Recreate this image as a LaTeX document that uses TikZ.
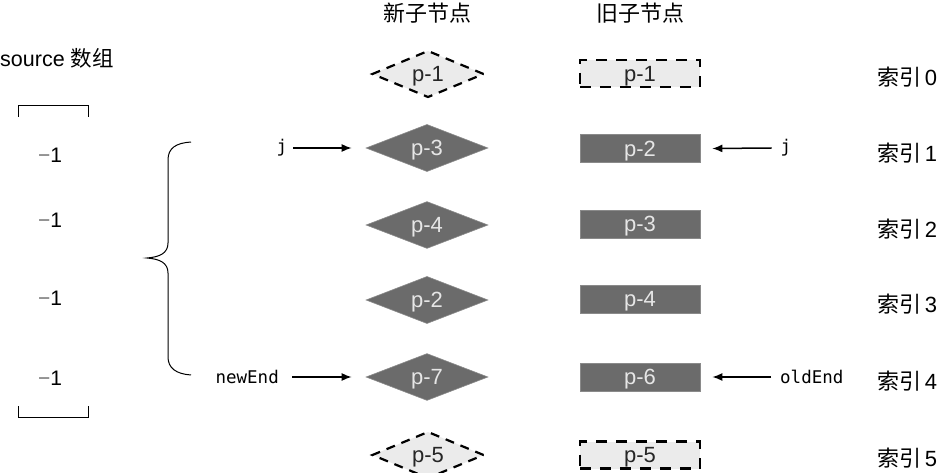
\documentclass[tikz,border=0pt]{standalone}
\usepackage{fontspec}
\setmainfont{Liberation Sans}
\newfontfamily\cjk{Noto Sans CJK SC}
\newfontfamily\codefont{DejaVu Sans Mono}
\usetikzlibrary{shapes.geometric,arrows.meta,calc}
\definecolor{darkfill}{HTML}{6B6B6B}
\definecolor{darkline}{HTML}{8A8A8A}
\definecolor{lightfill}{HTML}{EBEBEB}
\definecolor{darktext}{HTML}{E6E6E6}
\tikzset{
  base/.style={inner sep=0pt, text depth=0pt, font=\fontsize{22}{24}\selectfont},
  newdark/.style={base, diamond, minimum width=122pt, minimum height=34pt, fill=darkfill, draw=darkline, line width=0.6pt, text=darktext},
  newlight/.style={base, diamond, minimum width=112pt, minimum height=34pt, fill=lightfill, draw=black, line width=2.2pt, dash pattern=on 9pt off 7pt, text=black!85},
  olddark/.style={base, rectangle, minimum width=120pt, minimum height=28pt, fill=darkfill, draw=darkline, line width=0.6pt, text=darktext},
  oldlight/.style={base, rectangle, minimum width=120pt, minimum height=27pt, fill=lightfill, draw=black, line width=2.2pt, dash pattern=on 11pt off 9pt, text=black!85},
  header/.style={inner sep=0pt, font=\cjk\fontsize{22}{24}\selectfont},
  idx/.style={inner sep=0pt, font=\fontsize{22}{24}\selectfont, anchor=west},
  val/.style={inner sep=0pt, font=\fontsize{21}{24}\selectfont},
  ptr/.style={inner sep=0pt, font=\codefont\fontsize{17.5}{20}\selectfont},
  arr/.style={-{Latex[length=10pt,width=8pt]}, line width=1.5pt},
  brk/.style={line width=1pt},
}
\begin{document}
\begin{tikzpicture}[x=1pt,y=-1pt]
\useasboundingbox (0,0) rectangle (942,473);
% headers
\node[header] (hnew) at (427,13) {新子节点};
\node[header] (hold) at (640,13) {旧子节点};
\node[inner sep=0pt, font=\fontsize{21.5}{24}\selectfont, anchor=west] (src) at (0,58) {source {\cjk 数组}};
% new children
\node[newlight] (n0) at (428,74) {p-1};
\node[newdark]  (n1) at (427,148) {p-3};
\node[newdark]  (n2) at (427,225) {p-4};
\node[newdark]  (n3) at (427,300) {p-2};
\node[newdark]  (n4) at (427,377) {p-7};
\node[newlight] (n5) at (428,455) {p-5};
% old children
\node[oldlight] (o0) at (640,73.5) {p-1};
\node[olddark]  (o1) at (640,148.5) {p-2};
\node[olddark]  (o2) at (640,224) {p-3};
\node[olddark]  (o3) at (640,299) {p-4};
\node[olddark]  (o4) at (640,377) {p-6};
\node[oldlight] (o5) at (640,455) {p-5};
% index labels
\node[idx] (i0) at (877,77) {{\cjk 索引}\,0};
\node[idx] (i1) at (877,153) {{\cjk 索引}\,1};
\node[idx] (i2) at (877,229) {{\cjk 索引}\,2};
\node[idx] (i3) at (877,304) {{\cjk 索引}\,3};
\node[idx] (i4) at (877,381) {{\cjk 索引}\,4};
\node[idx] (i5) at (877,458) {{\cjk 索引}\,5};
% source values
\node[val] (v1) at (50,155) {\textcolor{black!55}{−}1};
\node[val] (v2) at (50,220) {\textcolor{black!55}{−}1};
\node[val] (v3) at (50,298) {\textcolor{black!55}{−}1};
\node[val] (v4) at (50,378) {\textcolor{black!55}{−}1};
% brackets
\coordinate (bt1) at (18,117); \coordinate (bt2) at (18,106);
\coordinate (bt3) at (88,106); \coordinate (bt4) at (88,117);
\draw[brk] (bt1) -- (bt2) -- (bt3) -- (bt4);
\coordinate (bb1) at (18,406); \coordinate (bb2) at (18,417);
\coordinate (bb3) at (88,417); \coordinate (bb4) at (88,406);
\draw[brk] (bb1) -- (bb2) -- (bb3) -- (bb4);
% brace
\coordinate (brT) at (191,142);
\coordinate (brM) at (147,258);
\coordinate (brB) at (191,375);
\draw[line width=1pt] (brT) .. controls (176,143) and (168,148) .. (168,160)
  -- (168,243) .. controls (168,253) and (160,257) .. (brM)
  .. controls (160,259) and (168,263) .. (168,273)
  -- (168,357) .. controls (168,368) and (176,374) .. (brB);
% pointers
\node[ptr] (jl) at (282,148) {j};
\node[ptr, anchor=east] (nel) at (279,377) {newEnd};
\node[ptr] (jr) at (786,148) {j};
\node[ptr, anchor=west] (oel) at (780,377) {oldEnd};
\draw[arr] ($(jl.east)+(6,0)$) -- ($(n1.west)+(-14,0)$);
\draw[arr] ($(nel.east)+(13,0)$) -- ($(n4.west)+(-14,0)$);
\draw[arr] ($(jr.west)+(-9,0)$) -- ($(o1.east)+(12,0)$);
\draw[arr] ($(oel.west)+(-9,0)$) -- ($(o4.east)+(12,0)$);
\end{tikzpicture}
\end{document}
